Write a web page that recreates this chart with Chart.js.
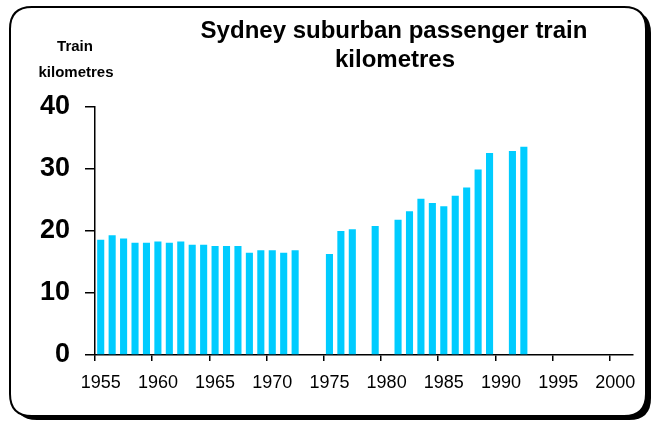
<!DOCTYPE html>
<html>
<head>
<meta charset="utf-8">
<script src="https://cdn.jsdelivr.net/npm/chart.js@4.4.1/dist/chart.umd.min.js"></script>
<style>
    html, body { margin: 0; padding: 0; background: #fff; }
    #wrap { width: 652px; height: 421px; }
</style>
</head>
<body>
<div id="wrap"><canvas id="trainChart" width="652" height="421"></canvas></div>
<script>
const YEARS = [
    '1955', '1956', '1957', '1958', '1959', '1960', '1961', '1962', '1963', '1964',
    '1965', '1966', '1967', '1968', '1969', '1970', '1971', '1972', '1973', '1974',
    '1975', '1976', '1977', '1978', '1979', '1980', '1981', '1982', '1983', '1984',
    '1985', '1986', '1987', '1988', '1989', '1990', '1991', '1992', '1993', '1994',
    '1995', '1996', '1997', '1998', '1999', '2000', '2001'
];
const TRAIN_KM = [
    18.6, 19.3, 18.8, 18.1, 18.1, 18.3, 18.1, 18.3, 17.8, 17.8,
    17.6, 17.6, 17.6, 16.5, 16.9, 16.9, 16.5, 16.9, null, null,
    16.3, 20.0, 20.3, null, 20.8, null, 21.8, 23.2, 25.2, 24.5,
    24.0, 25.7, 27.0, 29.9, 32.6, null, 32.9, 33.6, null, null,
    null, null, null, null, null, null, null
];
const X_TICK_LABELS = ['1955', '1960', '1965', '1970', '1975', '1980', '1985', '1990', '1995', '2000'];
const Y_TICKS = [0, 10, 20, 30, 40];
const TITLE_LINES = ['Sydney suburban passenger train', 'kilometres'];
const Y_TITLE_LINES = ['Train', 'kilometres'];

const FONT = '"Liberation Sans", Arial, sans-serif';

function roundRect(ctx, x, y, w, h, r) {
    ctx.beginPath();
    ctx.moveTo(x + r, y);
    ctx.lineTo(x + w - r, y);
    ctx.quadraticCurveTo(x + w, y, x + w, y + r);
    ctx.lineTo(x + w, y + h - r);
    ctx.quadraticCurveTo(x + w, y + h, x + w - r, y + h);
    ctx.lineTo(x + r, y + h);
    ctx.quadraticCurveTo(x, y + h, x, y + h - r);
    ctx.lineTo(x, y + r);
    ctx.quadraticCurveTo(x, y, x + r, y);
    ctx.closePath();
}

// frame with drop shadow, plus the titles
const framePlugin = {
    id: 'frame',
    beforeDraw(chart) {
        const ctx = chart.ctx;
        ctx.save();
        ctx.fillStyle = '#fff';
        ctx.fillRect(0, 0, chart.width, chart.height);

        ctx.fillStyle = '#000';
        roundRect(ctx, 15, 11, 636, 409, 22);
        ctx.fill();

        roundRect(ctx, 10, 7, 636, 409, 22);
        ctx.fillStyle = '#fff';
        ctx.fill();
        ctx.lineWidth = 2;
        ctx.strokeStyle = '#000';
        ctx.stroke();

        ctx.fillStyle = '#000';
        ctx.textAlign = 'center';
        ctx.textBaseline = 'middle';
        ctx.font = `bold 24px ${FONT}`;
        ctx.fillText(TITLE_LINES[0], 394, 31);
        ctx.fillText(TITLE_LINES[1], 395, 60);

        ctx.font = `bold 15px ${FONT}`;
        ctx.fillText(Y_TITLE_LINES[0], 75, 47);
        ctx.fillText(Y_TITLE_LINES[1], 76, 73);
        ctx.restore();
    }
};

const ctx = document.getElementById('trainChart').getContext('2d');
new Chart(ctx, {
    type: 'bar',
    data: {
        labels: YEARS,
        datasets: [{
            data: TRAIN_KM,
            backgroundColor: '#00CCFF',
            borderWidth: 0,
            barPercentage: 0.62,
            categoryPercentage: 1.0
        }]
    },
    options: {
        responsive: false,
        animation: false,
        devicePixelRatio: 1,
        layout: {
            padding: { left: 0, top: 107, right: 19.5, bottom: 0 }
        },
        plugins: {
            legend: { display: false },
            tooltip: { enabled: false },
            title: { display: false }
        },
        scales: {
            x: {
                type: 'category',
                offset: true,
                grid: {
                    offset: true,
                    drawOnChartArea: false,
                    drawTicks: true,
                    tickLength: 6,
                    lineWidth: 1.5,
                    color: c => (c.index % 5 === 0 ? '#000' : 'rgba(0,0,0,0)')
                },
                border: { display: true, color: '#000', width: 1.5 },
                ticks: {
                    autoSkip: false,
                    maxRotation: 0,
                    minRotation: 0,
                    color: '#000',
                    padding: 11,
                    font: { family: FONT, size: 18 },
                    callback: function (value) {
                        const label = this.getLabelForValue(value);
                        return X_TICK_LABELS.includes(label) ? label : '';
                    }
                },
                afterFit: scale => { scale.height = 66; }
            },
            y: {
                min: 0,
                max: 40,
                afterBuildTicks: scale => {
                    scale.ticks = Y_TICKS.map(v => ({ value: v }));
                },
                grid: {
                    drawOnChartArea: false,
                    drawTicks: true,
                    tickLength: 10,
                    lineWidth: 1.5,
                    color: '#000'
                },
                border: { display: true, color: '#000', width: 1.5 },
                ticks: {
                    color: '#000',
                    padding: 15,
                    font: { family: FONT, size: 27, weight: 'bold' }
                },
                afterFit: scale => { scale.width = 95; }
            }
        }
    },
    plugins: [framePlugin]
});
</script>
</body>
</html>
